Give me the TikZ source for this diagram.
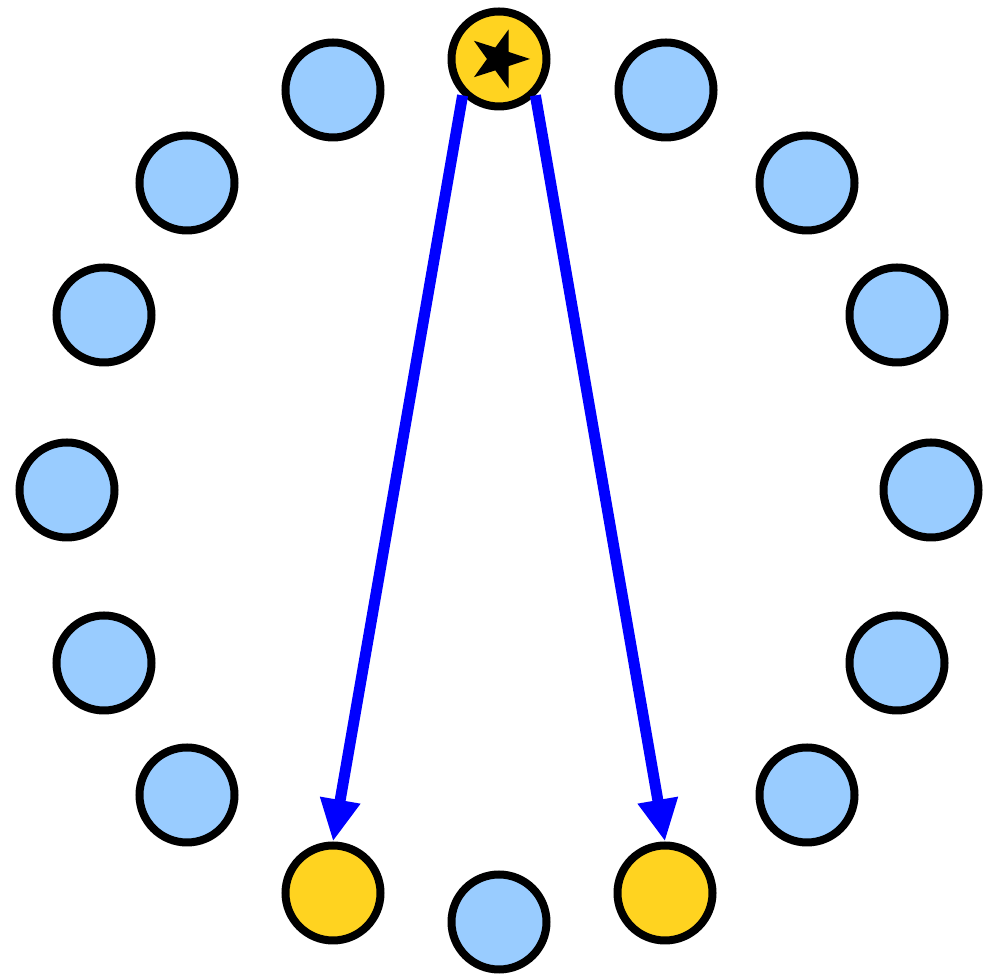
\documentclass[tikz,border=0pt]{standalone}
\usetikzlibrary{arrows.meta}
\definecolor{lightb}{HTML}{99CCFF}
\definecolor{gold}{HTML}{FFD320}
\definecolor{arrblue}{HTML}{0000FF}
\begin{document}
\begin{tikzpicture}[x=1pt,y=1pt,
  nd/.style={circle, draw=black, line width=8pt, minimum size=95pt, inner sep=0pt, fill=lightb},
  hl/.style={fill=gold},
  arr/.style={draw=arrblue, line width=11pt, -{Triangle[length=42pt,width=38pt]}}]
\useasboundingbox (0,0) rectangle (988,976);
\begin{scope}[shift={(499,486)}]
\node[nd,hl] (n0) at (0,431) {};
\node[nd] (n1) at (-166,400) {};
\node[nd] (n2) at (-312,307) {};
\node[nd] (n3) at (-395,175) {};
\node[nd] (n4) at (-432,0) {};
\node[nd] (n5) at (-395,-173) {};
\node[nd] (n6) at (-312,-305) {};
\node[nd,hl] (n7) at (-166,-403) {};
\node[nd] (n8) at (0,-432) {};
\node[nd,hl] (n9) at (166,-403) {};
\node[nd] (n10) at (308,-305) {};
\node[nd] (n11) at (398,-173) {};
\node[nd] (n12) at (432,0) {};
\node[nd] (n13) at (398,175) {};
\node[nd] (n14) at (308,307) {};
\node[nd] (n15) at (167,400) {};
\end{scope}
\fill[shift={(n0.center)}] (0:31) -- (36:12) -- (72:31) -- (108:12) -- (144:31) -- (180:12) -- (216:31) -- (252:12) -- (288:31) -- (324:12) -- cycle;
\draw[arr] (n0.south west) -- (n7.north);
\draw[arr] (n0.south east) -- (n9.north);
\end{tikzpicture}
\end{document}
